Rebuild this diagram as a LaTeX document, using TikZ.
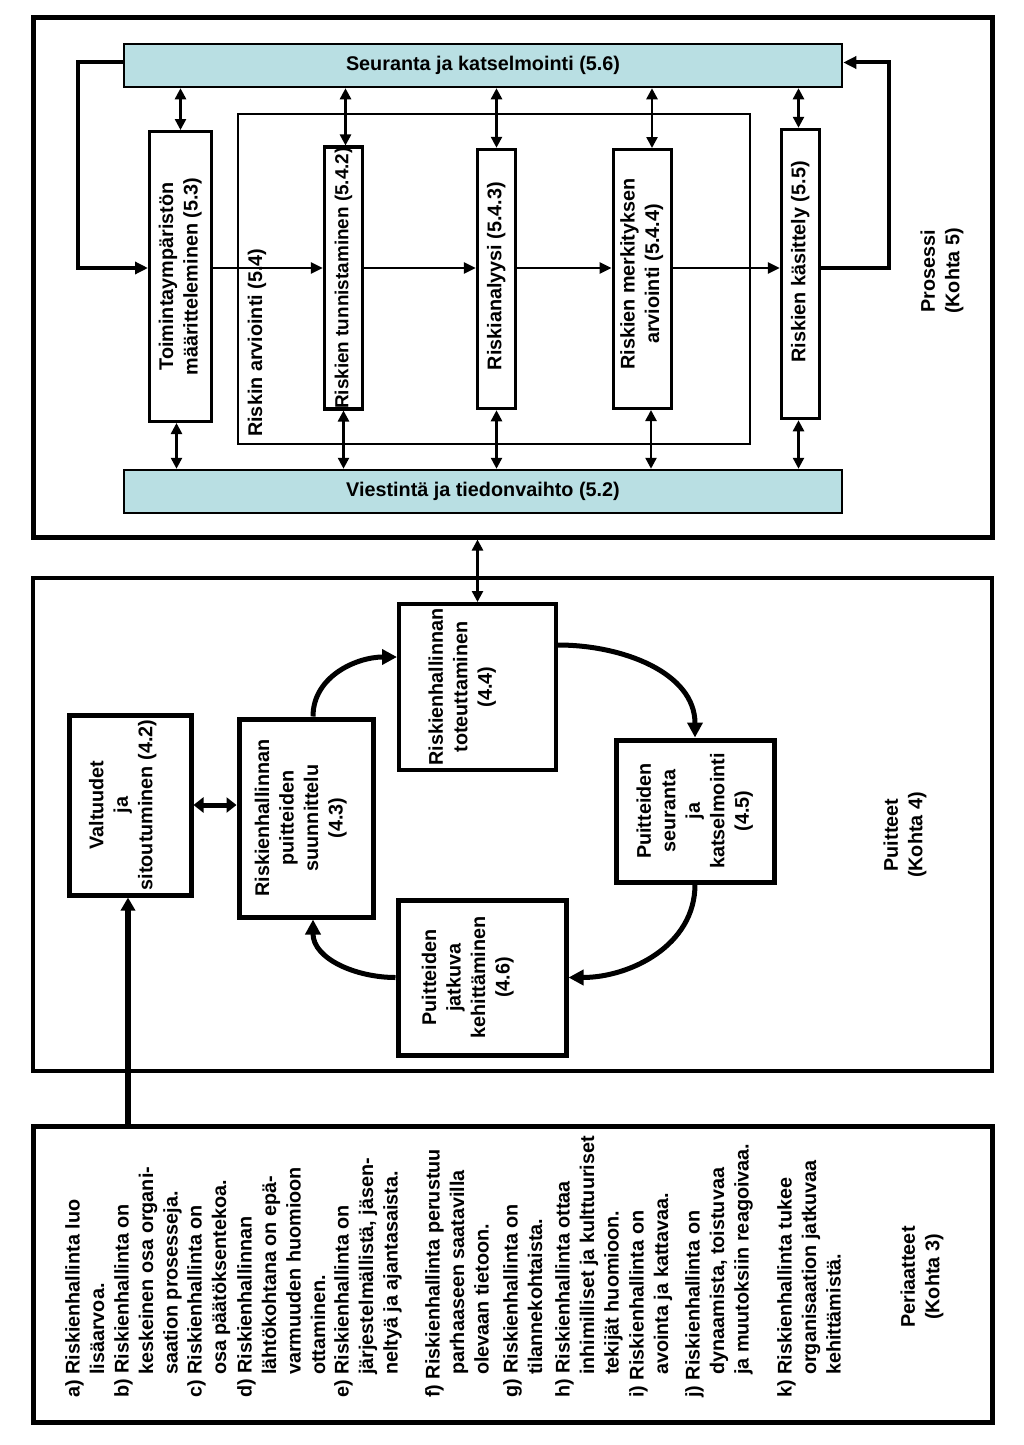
\documentclass[tikz,border=0pt]{standalone}
\usepackage{fontspec}
\setmainfont{Liberation Sans}
\usetikzlibrary{arrows.meta}
\definecolor{boxcyan}{RGB}{185,223,227}
\newcommand\rotlab[2][0pt]{\rotatebox{90}{\raisebox{#1}[\height][\depth]{\begin{tabular}{@{}c@{}}#2\end{tabular}}}}
\newcommand\hind{\hspace*{23pt}}
\begin{document}
\begin{tikzpicture}[x=1pt,y=-1pt,
  font=\fontsize{19.8}{24.5}\selectfont\bfseries,
  every node/.style={inner sep=0pt},
  bx/.style={draw,fill=white,line width=#1},
  bx/.default=3pt,
  chainarr/.style={line width=2.5pt,-{Triangle[length=12pt,width=11pt]}},
  looparr/.style={line width=4pt,-{Triangle[length=13pt,width=12pt]}},
  dblarr/.style={line width=2.5pt,{Triangle[length=11pt,width=11pt]}-{Triangle[length=11pt,width=11pt]}},
  cyclearr/.style={line width=5pt,-{Triangle[length=15pt,width=15pt]}},
  fatdbl/.style={line width=5pt,{Triangle[length=10pt,width=15pt]}-{Triangle[length=10pt,width=15pt]}},
  princarr/.style={line width=5.5pt,-{Triangle[length=13pt,width=14pt]}},
  item/.style={rotate=90,anchor=north west,align=left}
]
\fill[white] (0,0) rectangle (1024,1445);
\useasboundingbox (0,0) rectangle (1024,1445);

% ---------------- Prosessi ----------------
\node[bx=5pt, minimum width=959pt, minimum height=519pt] (proc) at (512.5,277.5) {};
\node[bx=2.5pt, fill=boxcyan, minimum width=718pt, minimum height=43pt] (seur) at (483,65.5) {Seuranta ja katselmointi (5.6)};
\node[bx=2.5pt, fill=boxcyan, minimum width=718pt, minimum height=43pt] (viest) at (483,491.5) {Viestintä ja tiedonvaihto (5.2)};
\node[draw, line width=2.5pt, minimum width=512pt, minimum height=330pt] (arv) at (494,279) {};
\node[rotate=90, anchor=west] (arvlab) at (257,437) {Riskin arviointi (5.4)};

\node[bx=3pt, minimum width=62pt, minimum height=290pt] (toim) at (180.5,276.5) {\rotlab{Toimintaympäristön\\määritteleminen (5.3)}};
\node[bx=3.5pt, minimum width=38pt, minimum height=259pt, font=\fontsize{18.9}{24}\selectfont\bfseries] (tunn) at (343.5,278) {\rotlab{Riskien tunnistaminen (5.4.2)}};
\node[bx=3.5pt, minimum width=38pt, minimum height=259pt] (anal) at (496.5,279) {\rotlab{\hspace*{6pt}Riskianalyysi (5.4.3)}};
\node[bx=3pt, minimum width=58pt, minimum height=259pt] (merk) at (642,279) {\rotlab{\hspace*{10pt}Riskien merkityksen\\\hspace*{10pt}arviointi (5.4.4)}};
\node[bx=3.5pt, minimum width=38pt, minimum height=289pt] (kas) at (800.5,274) {\rotlab{\hspace*{24pt}Riskien käsittely (5.5)}};

\node[rotate=90, align=center] (prolab) at (942,271) {Prosessi\\(Kohta 5)};

% vertical double arrows
\draw[dblarr] (toim.north) -- (toim.north |- seur.south);
\draw[dblarr] ([xshift=-4pt]toim.south) -- ([xshift=-4pt]toim.south |- viest.north);
\draw[dblarr] ([xshift=2pt]tunn.north) -- ([xshift=2pt]tunn.north |- seur.south);
\draw[dblarr] (tunn.south) -- (tunn.south |- viest.north);
\draw[dblarr] (anal.north) -- (anal.north |- seur.south);
\draw[dblarr] (anal.south) -- (anal.south |- viest.north);
\draw[dblarr] ([xshift=10pt]merk.north) -- ([xshift=10pt]merk.north |- seur.south);
\draw[dblarr] ([xshift=9pt]merk.south) -- ([xshift=9pt]merk.south |- viest.north);
\draw[dblarr] ([xshift=-2pt]kas.north) -- ([xshift=-2pt]kas.north |- seur.south);
\draw[dblarr] ([xshift=-2pt]kas.south) -- ([xshift=-2pt]kas.south |- viest.north);

% chain
\coordinate (chain) at (0,268);
\draw[chainarr] (toim.east |- chain) -- (tunn.west |- chain);
\draw[chainarr] (tunn.east |- chain) -- (anal.west |- chain);
\draw[chainarr] (anal.east |- chain) -- (merk.west |- chain);
\draw[chainarr] (merk.east |- chain) -- (kas.west |- chain);

% loops
\coordinate (lc) at (78,268);
\coordinate (rc) at (889,268);
\draw[looparr] ([yshift=3pt]seur.west) -| (lc) -- (toim.west |- lc);
\draw[looparr] (kas.east |- rc) -- (rc) |- ([yshift=3pt]seur.east);

% ---------------- Puitteet ----------------
\node[bx=3.5pt, minimum width=959pt, minimum height=493pt] (puit) at (512.5,824.5) {};
\node[bx=5pt, minimum width=122pt, minimum height=180pt] (valt) at (130,805) {\rotlab[7pt]{Valtuudet\\ja\\sitoutuminen (4.2)}};
\node[bx=5pt, minimum width=134pt, minimum height=198pt] (suun) at (306,818) {\rotlab[5pt]{Riskienhallinnan\\puitteiden\\suunnittelu\\(4.3)}};
\node[bx=4pt, minimum width=157pt, minimum height=166pt] (tot) at (477.5,687) {\rotlab[15pt]{Riskienhallinnan\\toteuttaminen\\(4.4)}};
\node[bx=5pt, minimum width=158pt, minimum height=142pt] (seu45) at (695,811) {\rotlab{Puitteiden\\seuranta\\ja\\katselmointi\\(4.5)}};
\node[bx=5pt, minimum width=168pt, minimum height=155pt] (jatk) at (482,977.5) {\rotlab[14pt]{Puitteiden\\jatkuva\\kehittäminen\\(4.6)}};
\node[rotate=90, align=center] (puilab) at (905,835) {Puitteet\\(Kohta 4)};

\draw[dblarr] (tot.north) -- (tot.north |- proc.south);
\draw[fatdbl] (valt.east) -- (valt.east -| suun.west);
\draw[cyclearr] ([xshift=7pt]suun.north) to[out=90,in=180] ([yshift=30pt]tot.west);
\draw[cyclearr] ([yshift=42pt]tot.east) to[out=0,in=90] (seu45.north);
\draw[cyclearr] (seu45.south) to[out=-90,in=0] (jatk.east);
\draw[cyclearr] (jatk.west) to[out=180,in=-90] ([xshift=7pt]suun.south);

% ---------------- Periaatteet ----------------
\node[bx=5pt, minimum width=959pt, minimum height=296pt] (peri) at (512.5,1274) {};
\draw[princarr] ([xshift=-2pt]peri.north -| valt.south) -- ([xshift=-2pt]valt.south);

\node[item] (pa) at (65,1398) {a) Riskienhallinta luo\\\hind lisäarvoa.};
\node[item] (pb) at (114,1398) {b) Riskienhallinta on\\\hind keskeinen osa organi-\\\hind saation prosesseja.};
\node[item] (pc) at (187,1398) {c) Riskienhallinta on\\\hind osa päätöksentekoa.};
\node[item] (pd) at (237,1398) {d) Riskienhallinnan\\\hind lähtökohtana on epä-\\\hind varmuuden huomioon\\\hind ottaminen.};
\node[item] (pe) at (334,1398) {e) Riskienhallinta on\\\hind järjestelmällistä, jäsen-\\\hind neltyä ja ajantasaista.};
\node[item] (pf) at (425,1398) {f) Riskienhallinta perustuu\\\hind parhaaseen saatavilla\\\hind olevaan tietoon.};
\node[item] (pg) at (503,1398) {g) Riskienhallinta on\\\hind tilannekohtaista.};
\node[item] (ph) at (555,1398) {h) Riskienhallinta ottaa\\\hind inhimilliset ja kulttuuriset\\\hind tekijät huomioon.};
\node[item] (pi) at (629,1398) {i) Riskienhallinta on\\\hind avointa ja kattavaa.};
\node[item] (pj) at (685,1398) {j) Riskienhallinta on\\\hind dynaamista, toistuvaa\\\hind ja muutoksiin reagoivaa.};
\node[item] (pk) at (777,1398) {k) Riskienhallinta tukee\\\hind organisaation jatkuvaa\\\hind kehittämistä.};
\node[rotate=90, align=center] (perlab) at (922,1277) {Periaatteet\\(Kohta 3)};
\end{tikzpicture}
\end{document}
